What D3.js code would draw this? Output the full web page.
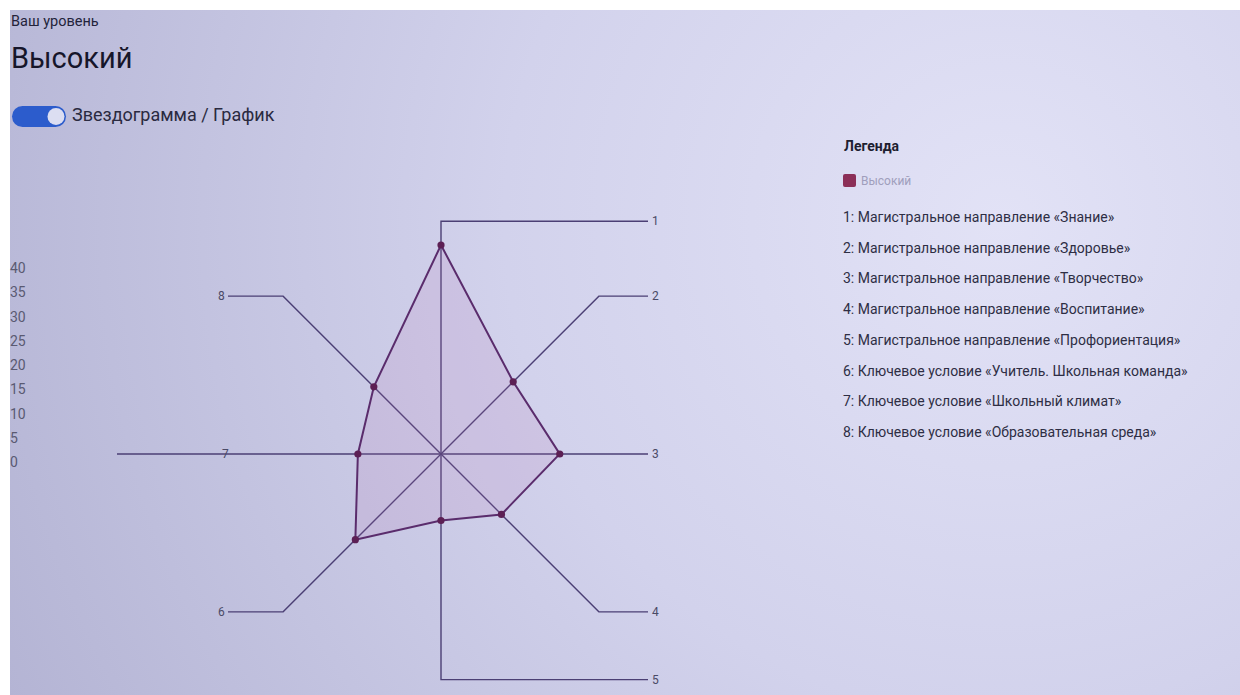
<!DOCTYPE html>
<html>
<head>
<meta charset="utf-8">
<script src="https://cdn.jsdelivr.net/npm/d3@7"></script>
<style>
  body { margin: 0; background: #ffffff; }
  svg { display: block; font-family: Roboto, "Open Sans", sans-serif; }
</style>
</head>
<body>
<div id="chart"></div>
<script>
// Data
var axisNumbers = ["1", "2", "3", "4", "5", "6", "7", "8"];
var levelValues = [44, 21.5, 25, 18, 14, 25.5, 17.5, 20];
var yTickLabels = [0, 5, 10, 15, 20, 25, 30, 35, 40];
var legendItems = [
  "1: Магистральное направление «Знание»",
  "2: Магистральное направление «Здоровье»",
  "3: Магистральное направление «Творчество»",
  "4: Магистральное направление «Воспитание»",
  "5: Магистральное направление «Профориентация»",
  "6: Ключевое условие «Учитель. Школьная команда»",
  "7: Ключевое условие «Школьный климат»",
  "8: Ключевое условие «Образовательная среда»"
];
var levelName = "Высокий";

var width = 1240, height = 695;
var cx = 441, cy = 454;

var svg = d3.select("#chart").append("svg")
  .attr("width", width)
  .attr("height", height);

// background (photo of a screen: lavender, darker bottom-left)
var defs = svg.append("defs");
var grad = defs.append("radialGradient")
  .attr("id", "bg")
  .attr("gradientUnits", "userSpaceOnUse")
  .attr("cx", 1000).attr("cy", 220).attr("r", 1100);
grad.append("stop").attr("offset", 0).attr("stop-color", "#e2e2f6");
grad.append("stop").attr("offset", 0.45).attr("stop-color", "#d2d2ec");
grad.append("stop").attr("offset", 1).attr("stop-color", "#b4b4d4");

svg.append("rect")
  .attr("x", 10).attr("y", 10)
  .attr("width", width - 10).attr("height", height - 10)
  .attr("fill", "url(#bg)");

// header
svg.append("text").attr("x", 11).attr("y", 26)
  .attr("font-size", 14.5).attr("fill", "#23233a")
  .text("Ваш уровень");
svg.append("text").attr("x", 11).attr("y", 68)
  .attr("font-size", 29).attr("fill", "#16162a")
  .text(levelName);

// toggle
svg.append("rect").attr("x", 12).attr("y", 106)
  .attr("width", 54).attr("height", 21).attr("rx", 10.5)
  .attr("fill", "#2c5ccc");
svg.append("circle").attr("cx", 56).attr("cy", 116.5).attr("r", 8.5)
  .attr("fill", "#dcdef2");
svg.append("text").attr("x", 72).attr("y", 121)
  .attr("font-size", 18).attr("fill", "#2a2a40")
  .text("Звездограмма / График");

// scales
var angle = d3.scaleLinear().domain([0, axisNumbers.length]).range([0, 2 * Math.PI]);
var r = d3.scaleLinear().domain([0, 48]).range([0, 228]);
var yLabel = d3.scaleLinear().domain([0, 40]).range([462, 268]);
var spokeR = r(47);

function px(i, v) { return cx + Math.sin(angle(i)) * v; }
function py(i, v) { return cy - Math.cos(angle(i)) * v; }

// left value labels
svg.append("g").selectAll("text")
  .data(yTickLabels)
  .enter().append("text")
  .attr("x", 10)
  .attr("y", function (d) { return yLabel(d) + 5; })
  .attr("font-size", 14)
  .attr("fill", "#5a5a72")
  .text(function (d) { return d; });

// spokes with leader lines to the numbers
var rightX = 648, leftX = 228, farLeftX = 117;
var spokes = svg.append("g").attr("fill", "none")
  .attr("stroke", "#4b3f74").attr("stroke-width", 1.4);

axisNumbers.forEach(function (n, i) {
  var a = angle(i);
  var pts;
  if (i === 2) {
    pts = [[cx, cy], [rightX, cy]];
  } else if (i === 6) {
    pts = [[cx, cy], [farLeftX, cy]];
  } else {
    var ex = px(i, spokeR), ey = py(i, spokeR);
    if (i === 0) ey = cy - r(49);
    if (i === 4) ey = cy + r(47.5);
    var tx = Math.sin(a) >= 0 ? rightX : leftX;
    pts = [[cx, cy], [ex, ey], [tx, ey]];
  }
  spokes.append("path").attr("d", d3.line()(pts));

  var last = pts[pts.length - 1];
  var lx = (i === 6) ? leftX - 6 : (last[0] > cx ? last[0] + 4 : last[0] - 10);
  svg.append("text")
    .attr("x", lx).attr("y", last[1] + 4)
    .attr("font-size", 12).attr("fill", "#4a4a66")
    .text(n);
});

// level polygon
var poly = levelValues.map(function (v, i) { return [px(i, r(v)), py(i, r(v))]; });
svg.append("path")
  .attr("d", d3.line().curve(d3.curveLinearClosed)(poly))
  .attr("fill", "rgba(185, 110, 175, 0.14)")
  .attr("stroke", "#5a2c6c")
  .attr("stroke-width", 2);

svg.append("g").selectAll("circle")
  .data(poly)
  .enter().append("circle")
  .attr("cx", function (d) { return d[0]; })
  .attr("cy", function (d) { return d[1]; })
  .attr("r", 3.6)
  .attr("fill", "#5c1f54");

// legend
var lg = svg.append("g").attr("transform", "translate(843,0)");
lg.append("text").attr("x", 1).attr("y", 151)
  .attr("font-size", 14).attr("font-weight", "bold").attr("fill", "#1e1e30")
  .text("Легенда");
lg.append("rect").attr("x", 0).attr("y", 174).attr("width", 13).attr("height", 13)
  .attr("rx", 2).attr("fill", "#8c2f58");
lg.append("text").attr("x", 18).attr("y", 185)
  .attr("font-size", 12).attr("fill", "#a09ebc")
  .text(levelName);

var legendY = d3.scalePoint().domain(d3.range(legendItems.length)).range([222, 437]);
lg.append("g").selectAll("text")
  .data(legendItems)
  .enter().append("text")
  .attr("x", 0)
  .attr("y", function (d, i) { return legendY(i); })
  .attr("font-size", 14)
  .attr("fill", "#2e2e44")
  .text(function (d) { return d; });
</script>
</body>
</html>
